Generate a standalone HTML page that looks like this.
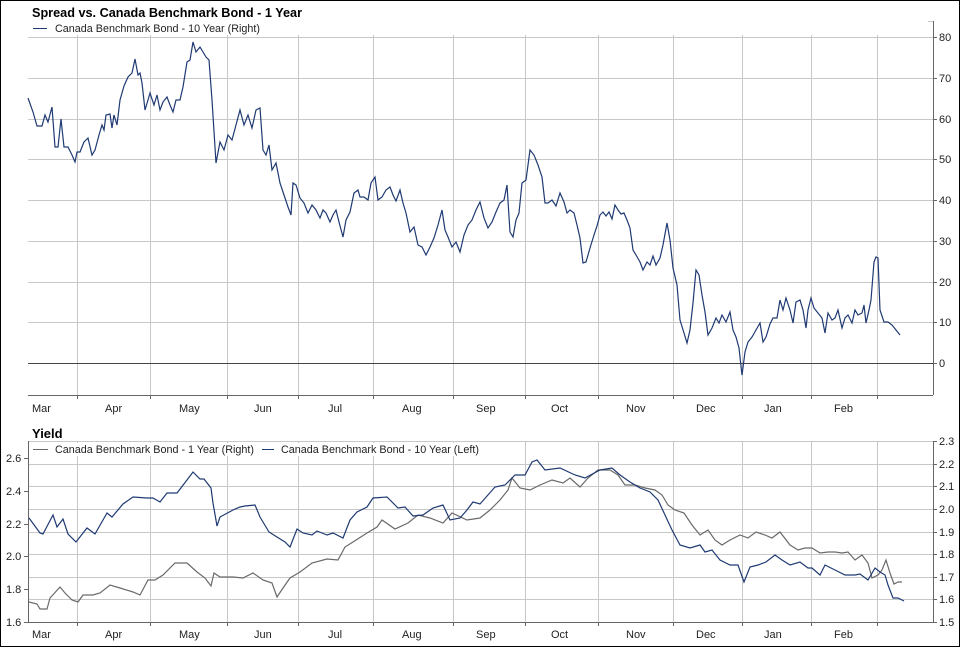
<!DOCTYPE html>
<html><head><meta charset="utf-8"><style>
html,body{margin:0;padding:0;background:#fff}
svg{display:block}
text{font-family:"Liberation Sans",sans-serif;font-size:11px;fill:#222}
.t{font-weight:bold;font-size:13px;fill:#000}
</style></head><body>
<svg width="960" height="647" viewBox="0 0 960 647" xmlns="http://www.w3.org/2000/svg">
<rect x="0.5" y="0.5" width="959" height="646" fill="#fff" stroke="#000"/>
<text class="t" x="32" y="17" textLength="270" lengthAdjust="spacingAndGlyphs">Spread vs. Canada Benchmark Bond - 1 Year</text>
<g stroke="#c8c8c8" stroke-width="1">
<path d="M77.5 21V395M150.5 21V395M227.5 21V395M298.5 21V395M373.5 21V395M453.5 21V395M525.5 21V395M598.5 21V395M673.5 21V395M742.5 21V395M811.5 21V395M877.5 21V395"/>
<path d="M28 37.5H933M28 78.5H933M28 119.5H933M28 159.5H933M28 200.5H933M28 241.5H933M28 282.5H933M28 322.5H933M28 21.5H933"/>
</g>
<rect x="28" y="21" width="900" height="14" fill="#fff"/>
<line x1="28" y1="363.5" x2="933" y2="363.5" stroke="#444"/>
<path d="M933.5 21V395M28 395.5H933" stroke="#666" fill="none"/>
<g stroke="#666"><path d="M933 37.5h4M933 78.5h4M933 119.5h4M933 159.5h4M933 200.5h4M933 241.5h4M933 282.5h4M933 322.5h4M933 363.5h4M77.5 395v4M150.5 395v4M227.5 395v4M298.5 395v4M373.5 395v4M453.5 395v4M525.5 395v4M598.5 395v4M673.5 395v4M742.5 395v4M811.5 395v4M877.5 395v4"/></g>
<line x1="33" y1="28.5" x2="47" y2="28.5" stroke="#1f3a73"/>
<text x="55" y="32" textLength="205" lengthAdjust="spacingAndGlyphs">Canada Benchmark Bond - 10 Year (Right)</text>
<g text-anchor="start"><text x="939" y="41">80</text><text x="939" y="82">70</text><text x="939" y="123">60</text><text x="939" y="163">50</text><text x="939" y="204">40</text><text x="939" y="245">30</text><text x="939" y="286">20</text><text x="939" y="326">10</text><text x="939" y="367">0</text></g>
<g><text x="32" y="412">Mar</text><text x="105" y="412">Apr</text><text x="179" y="412">May</text><text x="254" y="412">Jun</text><text x="328" y="412">Jul</text><text x="402" y="412">Aug</text><text x="476" y="412">Sep</text><text x="551" y="412">Oct</text><text x="626" y="412">Nov</text><text x="696" y="412">Dec</text><text x="764" y="412">Jan</text><text x="834" y="412">Feb</text></g>
<polyline fill="none" stroke="#1f3a73" stroke-width="1.2" points="28,98 33,112 37,126 42,126 45,115 48,122 52,107 55,147 58,147 61,119 64,147 68,147 72,155 75,162 77,152 80,152 84,142 88,138 92,155 95,150 99,135 102,125 104,130 106,115 110,114 112,128 114,115 117,125 120,100 124,86 128,77 132,73 135,59 138,75 140,73 142,83 145,110 148,100 150,93 154,105 157,95 160,110 163,102 167,97 170,105 173,112 176,100 180,100 183,87 187,62 190,60 193,42 196,52 200,47 203,52 206,57 209,60 212,100 216,163 220,142 224,150 228,135 232,140 236,125 240,110 244,125 248,115 252,128 256,110 260,108 263,150 266,155 269,145 272,170 276,163 280,183 284,195 288,207 291,215 293,183 296,185 300,198 304,203 308,213 312,205 316,210 320,218 323,210 326,213 330,222 333,215 336,210 339,222 343,237 346,220 350,212 354,193 358,190 360,197 364,197 368,200 371,183 375,177 378,200 382,197 386,190 390,187 393,195 396,201 400,190 403,203 406,213 410,232 414,227 418,245 422,247 426,255 430,247 434,238 438,225 442,210 445,230 448,237 452,247 456,242 460,252 464,235 468,225 472,220 476,210 480,202 484,218 488,228 492,222 496,212 500,203 504,200 507,185 510,232 513,237 516,220 519,213 522,183 526,180 530,150 534,155 538,165 542,177 545,203 548,203 552,200 556,206 560,193 564,202 567,213 570,210 574,213 577,225 580,238 583,263 586,262 590,248 594,235 597,226 600,215 603,212 606,216 609,212 612,219 615,205 618,210 621,214 624,213 627,220 630,228 633,250 636,255 640,262 643,270 647,262 650,265 653,256 656,265 660,258 663,245 667,223 670,240 673,268 677,285 680,320 684,333 687,343 690,330 693,303 696,270 699,275 702,295 705,312 708,335 712,328 716,318 719,323 722,315 726,322 730,312 733,330 736,337 739,348 742,375 745,352 748,342 752,337 756,330 760,323 763,342 766,337 770,324 773,318 777,318 780,300 783,310 786,298 790,310 793,323 796,302 800,300 803,310 806,328 808,310 811,298 814,308 818,313 822,318 825,333 828,313 832,320 835,318 838,310 842,328 845,318 848,315 852,323 855,310 858,315 862,313 864,305 866,323 869,310 871,300 874,262 876,257 878,258 880,310 884,322 888,322 892,325 896,330 900,335"/>

<text class="t" x="32" y="438">Yield</text>
<g stroke="#c8c8c8" stroke-width="1">
<path d="M77.5 441V622M150.5 441V622M227.5 441V622M298.5 441V622M373.5 441V622M453.5 441V622M525.5 441V622M598.5 441V622M673.5 441V622M742.5 441V622M811.5 441V622M877.5 441V622"/>
<path d="M28 441.5H933M28 464.5H933M28 486.5H933M28 509.5H933M28 532.5H933M28 554.5H933M28 577.5H933M28 599.5H933"/>
</g>
<rect x="29" y="443" width="452" height="13" fill="#fff"/>
<path d="M28.5 441V622M933.5 441V622M28 622.5H933" stroke="#666" fill="none"/>
<g stroke="#666"><path d="M24 458.5h4M24 491.5h4M24 524.5h4M24 556.5h4M24 589.5h4M24 622.5h4M933 441.5h4M933 464.5h4M933 486.5h4M933 509.5h4M933 532.5h4M933 554.5h4M933 577.5h4M933 599.5h4M933 622.5h4M77.5 622v4M150.5 622v4M227.5 622v4M298.5 622v4M373.5 622v4M453.5 622v4M525.5 622v4M598.5 622v4M673.5 622v4M742.5 622v4M811.5 622v4M877.5 622v4"/></g>
<line x1="33" y1="449.5" x2="48" y2="449.5" stroke="#666"/>
<text x="55" y="453" textLength="199" lengthAdjust="spacingAndGlyphs">Canada Benchmark Bond - 1 Year (Right)</text>
<line x1="262" y1="449.5" x2="274" y2="449.5" stroke="#1f3a73"/>
<text x="281" y="453" textLength="198" lengthAdjust="spacingAndGlyphs">Canada Benchmark Bond - 10 Year (Left)</text>
<g><text x="6" y="462">2.6</text><text x="6" y="495">2.4</text><text x="6" y="528">2.2</text><text x="6" y="560">2.0</text><text x="6" y="593">1.8</text><text x="6" y="626">1.6</text></g>
<g><text x="939" y="445">2.3</text><text x="939" y="468">2.2</text><text x="939" y="490">2.1</text><text x="939" y="513">2.0</text><text x="939" y="536">1.9</text><text x="939" y="558">1.8</text><text x="939" y="581">1.7</text><text x="939" y="603">1.6</text><text x="939" y="626">1.5</text></g>
<g><text x="32" y="638">Mar</text><text x="105" y="638">Apr</text><text x="179" y="638">May</text><text x="254" y="638">Jun</text><text x="328" y="638">Jul</text><text x="402" y="638">Aug</text><text x="476" y="638">Sep</text><text x="551" y="638">Oct</text><text x="626" y="638">Nov</text><text x="696" y="638">Dec</text><text x="764" y="638">Jan</text><text x="834" y="638">Feb</text></g>
<polyline fill="none" stroke="#6a6a6a" stroke-width="1.2" points="29,602 37,604 40,609 47,609 50,598 60,587 65,593 72,600 78,602 83,595 93,595 100,593 110,585 120,588 133,592 140,595 148,580 155,580 163,575 175,563 187,563 197,572 205,578 211,586 214,573 220,577 233,577 243,578 253,573 263,580 272,583 277,597 283,588 290,578 300,572 312,563 327,559 338,560 345,547 353,542 367,533 377,527 382,520 395,529 408,523 418,515 430,518 443,523 452,513 467,520 480,518 490,510 500,500 508,490 512,478 520,488 530,490 540,485 552,480 563,483 570,478 580,487 588,478 598,470 610,470 618,475 625,485 635,485 645,488 655,490 662,495 668,505 675,510 684,513 692,525 700,535 708,530 715,540 722,545 730,540 740,535 748,538 756,532 765,535 772,538 780,532 790,545 798,550 805,548 812,548 820,553 828,552 835,552 842,553 848,552 855,560 862,555 868,563 872,578 876,576 878,575 882,570 886,560 890,573 894,584 898,582 902,582"/>
<polyline fill="none" stroke="#1f3a73" stroke-width="1.2" points="29,518 40,533 43,534 53,515 57,527 63,519 68,534 76,542 87,528 95,534 107,513 112,517 123,504 133,497 147,498 153,498 160,502 167,493 177,493 187,480 193,472 200,479 204,479 211,488 213,503 217,526 220,517 233,510 240,507 245,506 255,505 260,517 269,532 277,537 285,542 290,547 297,529 303,533 312,535 317,531 327,535 333,533 343,538 350,520 357,512 367,507 373,498 387,497 398,508 405,507 413,516 423,515 433,508 443,505 450,520 460,518 467,510 473,502 480,504 495,487 505,485 515,475 525,475 532,462 537,460 545,470 560,468 575,475 585,478 600,470 612,468 620,475 630,482 640,488 650,492 658,500 665,515 672,530 680,545 690,548 700,545 705,552 712,550 720,560 730,565 738,565 744,582 750,567 758,565 766,562 775,555 782,560 790,565 800,562 808,568 812,568 820,575 825,565 835,570 845,575 855,575 860,574 868,580 875,568 880,572 885,575 888,585 893,598 898,598 904,601"/>
</svg>
</body></html>
